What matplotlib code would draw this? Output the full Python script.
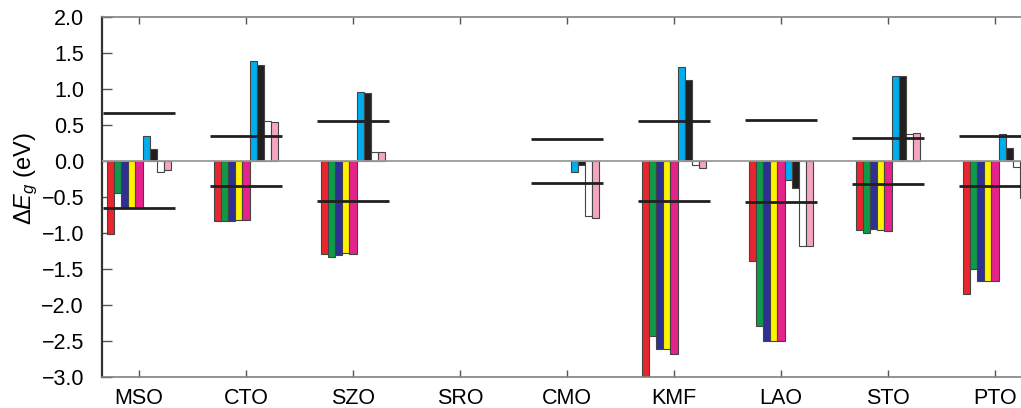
import matplotlib
matplotlib.use('Agg')
import numpy as np
import matplotlib.pyplot as plt

plt.rcParams['font.family'] = ['Liberation Sans', 'DejaVu Sans']
plt.rcParams['mathtext.fontset'] = 'custom'
plt.rcParams['mathtext.rm'] = 'Liberation Sans'
plt.rcParams['mathtext.it'] = 'Liberation Sans:italic'

categories = ['MSO', 'CTO', 'SZO', 'SRO', 'CMO', 'KMF', 'LAO', 'STO', 'PTO']

# one list per colour, values in eV per material
red     = [-1.01, -0.83, -1.30, 0, 0, -3.10, -1.39, -0.96, -1.85]
green   = [-0.44, -0.83, -1.34, 0, 0, -2.43, -2.30, -1.00, -1.50]
blue    = [-0.66, -0.83, -1.31, 0, 0, -2.62, -2.50, -0.95, -1.67]
yellow  = [-0.66, -0.82, -1.28, 0, 0, -2.61, -2.51, -0.96, -1.67]
magenta = [-0.66, -0.82, -1.29, 0, 0, -2.69, -2.50, -0.97, -1.67]
cyan    = [0.35, 1.39, 0.96, 0, -0.16, 1.30, -0.26, 1.18, 0.38]
black   = [0.17, 1.33, 0.95, 0, -0.06, 1.12, -0.37, 1.18, 0.18]
white   = [-0.15, 0.55, 0.13, 0, -0.77, -0.06, -1.19, 0.37, -0.09]
pink    = [-0.13, 0.54, 0.13, 0, -0.79, -0.10, -1.19, 0.39, -0.52]

# +/- threshold lines per material (none for SRO)
threshold = [0.66, 0.35, 0.56, np.nan, 0.31, 0.56, 0.565, 0.325, 0.345]

series = [red, green, blue, yellow, magenta, cyan, black, white, pink]
colors = ['#e8262d', '#0f9a48', '#2e3192', '#fff200', '#e6238a',
          '#00aeef', '#231f20', '#ffffff', '#f4a6c0']

yticks = np.arange(-3.0, 2.01, 0.5)

fig = plt.figure(figsize=(10.21, 4.08), dpi=100)
ax = fig.add_axes([0.0999, 0.0767, 0.9107, 0.8816])

x = np.arange(len(categories))
n = len(series)
bw = 0.067
for k, (vals, c) in enumerate(zip(series, colors)):
    vals = np.array(vals, dtype=float)
    m = vals != 0
    xs = x + (k - (n - 1) / 2) * bw
    ax.bar(xs[m], vals[m], width=bw, color=c, edgecolor='#444444', linewidth=0.8, zorder=2)

ax.axhline(0, color='#9a9a9a', linewidth=1.3, zorder=3)

half = 0.335
for xi, t in zip(x, threshold):
    if np.isnan(t):
        continue
    for s in (1, -1):
        ax.plot([xi - half, xi + half], [s * t, s * t],
                color='#231f20', linewidth=2.0, solid_capstyle='butt', zorder=4)

ax.set_xlim(-0.346, 8.344)
ax.set_ylim(-3.0, 2.0)
ax.set_xticks(x)
ax.set_xticklabels(categories)
ax.set_yticks(yticks)
ax.set_yticklabels([f'{v:.1f}'.replace('-', '\u2212') for v in yticks])

ax.tick_params(axis='both', direction='in', labelsize=15.5, colors='#555555', labelcolor='black')
ax.tick_params(axis='y', length=7, width=1.0, pad=13, right=True)
ax.tick_params(axis='x', length=5, width=1.0, pad=8, top=True)

for side in ['top', 'bottom', 'right']:
    ax.spines[side].set_color('#808080')
    ax.spines[side].set_linewidth(1.2)
ax.spines['left'].set_color('#333333')
ax.spines['left'].set_linewidth(1.6)

ax.set_ylabel(r'$\Delta\mathit{E}_g$ (eV)', fontsize=17)
ax.yaxis.set_label_coords(-0.067, 0.55)

fig.savefig('out.png', dpi=100)
